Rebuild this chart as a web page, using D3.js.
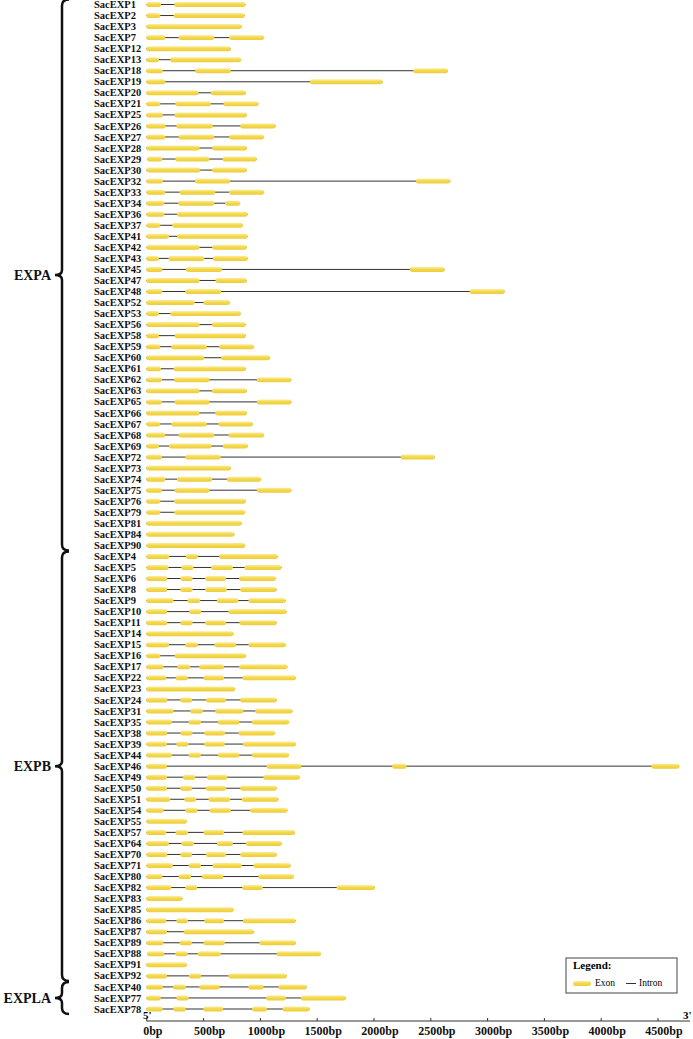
<!DOCTYPE html>
<html><head><meta charset="utf-8">
<script src="https://cdn.jsdelivr.net/npm/d3@7"></script>
<style>html,body{margin:0;padding:0;background:#fff;}svg{display:block;}</style>
</head><body>
<svg id="chart" width="693" height="1039"></svg>
<script>
const groupNames = ["EXPA", "EXPB", "EXPLA"];
const groupSizes = [50, 39, 3];
const geneNames = [
"SacEXP1","SacEXP2","SacEXP3","SacEXP7","SacEXP12","SacEXP13","SacEXP18","SacEXP19","SacEXP20","SacEXP21",
"SacEXP25","SacEXP26","SacEXP27","SacEXP28","SacEXP29","SacEXP30","SacEXP32","SacEXP33","SacEXP34","SacEXP36",
"SacEXP37","SacEXP41","SacEXP42","SacEXP43","SacEXP45","SacEXP47","SacEXP48","SacEXP52","SacEXP53","SacEXP56",
"SacEXP58","SacEXP59","SacEXP60","SacEXP61","SacEXP62","SacEXP63","SacEXP65","SacEXP66","SacEXP67","SacEXP68",
"SacEXP69","SacEXP72","SacEXP73","SacEXP74","SacEXP75","SacEXP76","SacEXP79","SacEXP81","SacEXP84","SacEXP90",
"SacEXP4","SacEXP5","SacEXP6","SacEXP8","SacEXP9","SacEXP10","SacEXP11","SacEXP14","SacEXP15","SacEXP16",
"SacEXP17","SacEXP22","SacEXP23","SacEXP24","SacEXP31","SacEXP35","SacEXP38","SacEXP39","SacEXP44","SacEXP46",
"SacEXP49","SacEXP50","SacEXP51","SacEXP54","SacEXP55","SacEXP57","SacEXP64","SacEXP70","SacEXP71","SacEXP80",
"SacEXP82","SacEXP83","SacEXP85","SacEXP86","SacEXP87","SacEXP89","SacEXP88","SacEXP91","SacEXP92",
"SacEXP40","SacEXP77","SacEXP78"];
const exonData = [
[[0,129],[246,873]],
[[0,123],[240,867]],
[[0,840]],
[[0,167],[284,598],[729,1037]],
[[0,744]],
[[0,111],[211,835]],
[[0,146],[431,744],[2349,2656]],
[[0,167],[1441,2080]],
[[0,460],[568,876]],
[[0,123],[255,568],[679,987]],
[[0,146],[249,885]],
[[0,170],[264,586],[826,1139]],
[[0,167],[284,598],[729,1037]],
[[0,469],[580,885]],
[[6,141],[255,556],[671,972]],
[[0,475],[577,885]],
[[0,146],[428,738],[2373,2677]],
[[0,167],[293,606],[729,1037]],
[[0,158],[281,598],[694,826]],
[[0,158],[270,893]],
[[0,123],[228,850]],
[[0,199],[272,893]],
[[0,469],[580,885]],
[[0,111],[196,510],[586,893]],
[[0,141],[349,665],[2320,2627]],
[[0,469],[609,885]],
[[0,141],[343,659],[2847,3155]],
[[0,425],[504,738]],
[[0,111],[211,832]],
[[0,469],[577,876]],
[[0,111],[249,876]],
[[0,123],[220,533],[641,949]],
[[0,510],[659,1090]],
[[0,129],[240,876]],
[[0,138],[246,556],[973,1277]],
[[0,469],[577,885]],
[[0,138],[249,556],[973,1277]],
[[0,469],[606,885]],
[[0,123],[220,533],[636,937]],
[[0,167],[284,598],[724,1037]],
[[0,111],[199,574],[674,893]],
[[0,138],[343,656],[2238,2540]],
[[0,744]],
[[0,167],[270,580],[709,1011]],
[[0,138],[249,556],[973,1277]],
[[0,123],[246,876]],
[[0,123],[246,870]],
[[0,840]],
[[0,776]],
[[0,870]],
[[0,202],[349,454],[641,1157]],
[[0,196],[308,416],[571,762],[864,1192]],
[[0,185],[299,407],[518,703],[817,1139]],
[[0,185],[299,407],[518,709],[826,1148]],
[[0,240],[363,474],[621,811],[899,1227]],
[[0,185],[378,483],[723,1236]],
[[0,185],[299,407],[518,703],[820,1148]],
[[0,767]],
[[0,199],[343,454],[600,791],[899,1227]],
[[0,123],[249,879]],
[[0,152],[272,387],[466,685],[817,1242]],
[[0,176],[258,366],[504,685],[846,1318]],
[[0,782]],
[[0,185],[299,404],[524,703],[826,1148]],
[[0,240],[387,498],[606,855],[958,1286]],
[[0,226],[372,481],[630,820],[929,1257]],
[[0,185],[299,407],[510,694],[811,1134]],
[[0,182],[264,372],[510,691],[850,1318]],
[[0,226],[372,481],[630,820],[929,1257]],
[[0,182],[1060,1365],[2164,2291],[4446,4692]],
[[0,182],[322,431],[533,714],[1031,1353]],
[[0,182],[299,404],[524,703],[826,1148]],
[[0,211],[334,439],[548,738],[841,1163]],
[[0,152],[343,451],[556,744],[914,1242]],
[[0,357]],
[[0,176],[258,366],[504,685],[846,1309]],
[[0,199],[308,419],[621,762],[876,1195]],
[[0,185],[299,404],[524,703],[826,1148]],
[[0,234],[372,481],[583,841],[943,1271]],
[[0,143],[284,395],[489,679],[987,1300]],
[[0,220],[343,448],[844,1025],[1676,2012]],
[[0,319]],
[[0,767]],
[[0,176],[264,366],[510,685],[850,1315]],
[[0,182],[328,949]],
[[0,152],[293,401],[504,691],[996,1318]],
[[6,158],[255,366],[451,656],[1148,1538]],
[[0,357]],
[[0,182],[375,483],[723,1236]],
[[0,146],[234,349],[466,644],[899,1031],[1163,1412]],
[[0,127],[264,373],[1054,1230],[1359,1757]],
[[0,144],[237,346],[501,677],[931,1063],[1199,1437]]
];
const tickValues = [0,500,1000,1500,2000,2500,3000,3500,4000,4500];
const tickLabels = ["0bp","500bp","1000bp","1500bp","2000bp","2500bp","3000bp","3500bp","4000bp","4500bp"];

const svg = d3.select("#chart");
const x = d3.scaleLinear().domain([0, 4500]).range([146.3, 657.5]);
const y = d3.scaleLinear().domain([0, geneNames.length - 1]).range([4.5, 1009]);
const exonH = 5;

const defs = svg.append("defs");
const grad = defs.append("linearGradient").attr("id","exg").attr("x1",0).attr("y1",0).attr("x2",0).attr("y2",1);
grad.append("stop").attr("offset","0%").attr("stop-color","#fbeea0");
grad.append("stop").attr("offset","45%").attr("stop-color","#f5d84c");
grad.append("stop").attr("offset","100%").attr("stop-color","#eccd3c");

const serif = "'Liberation Serif','Times New Roman',serif";

// gene rows
const rows = svg.append("g").selectAll("g").data(geneNames).join("g")
  .attr("transform", (d,i) => `translate(0,${y(i)})`);
rows.append("text").attr("x", 94).attr("y", 3.6)
  .attr("font-family", serif).attr("font-size", 10.5).attr("font-weight","bold").attr("fill","#111")
  .text(d => d);
rows.append("line")
  .attr("x1", (d,i) => x(exonData[i][0][0]))
  .attr("x2", (d,i) => x(exonData[i][exonData[i].length-1][1]))
  .attr("stroke", "#333").attr("stroke-width", 1);
rows.each(function(d,i){
  d3.select(this).selectAll("rect").data(exonData[i]).join("rect")
    .attr("x", e => x(e[0])).attr("width", e => x(e[1]) - x(e[0]))
    .attr("y", -exonH/2).attr("height", exonH).attr("rx", exonH/2).attr("ry", exonH/2)
    .attr("fill", "url(#exg)");
});

// braces
function brace(y0, y1, ym) {
  const xs = 62, xr = 69, xl = 55;
  return `M${xr},${y0} Q${xs},${y0} ${xs},${y0+6} L${xs},${ym-5} Q${xs},${ym} ${xl},${ym} Q${xs},${ym} ${xs},${ym+5} L${xs},${y1-6} Q${xs},${y1} ${xr},${y1}`;
}
let start = 0;
groupNames.forEach((g, gi) => {
  const n = groupSizes[gi];
  const y0 = y(start) - 5, y1 = y(start + n - 1) + 5, ym = (y(start) + y(start+n-1)) / 2;
  svg.append("path").attr("d", brace(y0, y1, ym)).attr("fill","none").attr("stroke","#111").attr("stroke-width",2.5);
  svg.append("text").attr("x", 51).attr("y", ym + 5).attr("text-anchor","end")
    .attr("font-family", serif).attr("font-size", 14).attr("font-weight","bold").attr("fill","#111").text(g);
  start += n;
});

// axis
const axisY = 1021;
const ax = svg.append("g").attr("transform", `translate(0,${axisY})`)
  .call(d3.axisBottom(x).tickValues(tickValues).tickSize(-3).tickFormat((d,i) => tickLabels[i]));
ax.select(".domain").remove();
ax.append("line").attr("x1", x(0)).attr("x2", 690).attr("stroke","#333");
ax.selectAll(".tick line").attr("stroke","#333");
ax.selectAll(".tick text").attr("font-family", serif).attr("font-size", 12).attr("font-weight","bold")
  .attr("fill","#111").attr("y", 0).attr("dy", 14).attr("dx", 6);
svg.append("text").attr("x", 143).attr("y", 1019).attr("font-family", serif).attr("font-size", 11).attr("font-weight","bold").text("5'");
svg.append("text").attr("x", 683).attr("y", 1019).attr("font-family", serif).attr("font-size", 11).attr("font-weight","bold").text("3'");

// legend
const lg = svg.append("g").attr("transform","translate(566,958)");
lg.append("rect").attr("x",0).attr("y",0).attr("width",111).attr("height",35).attr("fill","#fff").attr("stroke","#444").attr("stroke-width",1);
lg.append("text").attr("x",7).attr("y",11).attr("font-family",serif).attr("font-size",11).attr("font-weight","bold").text("Legend:");
lg.append("rect").attr("x",7).attr("y",23).attr("width",18).attr("height",5).attr("rx",2.5).attr("fill","url(#exg)");
lg.append("text").attr("x",29).attr("y",28).attr("font-family",serif).attr("font-size",9.5).text("Exon");
lg.append("line").attr("x1",60).attr("x2",70).attr("y1",25.5).attr("y2",25.5).attr("stroke","#333");
lg.append("text").attr("x",73).attr("y",28).attr("font-family",serif).attr("font-size",9.5).text("Intron");
</script>
</body></html>
